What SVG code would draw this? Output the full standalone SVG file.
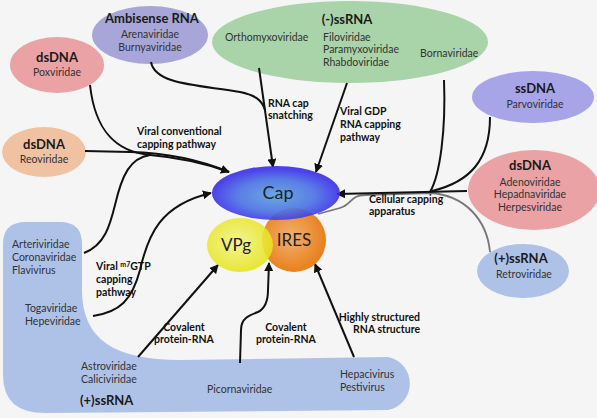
<svg xmlns="http://www.w3.org/2000/svg" width="597" height="418" viewBox="0 0 597 418">
<style>
text{font-family:Lato,"Liberation Sans",sans-serif;fill:#222}
.t{font-size:13px;font-weight:bold;text-anchor:middle;fill:#1a1a1a}
.f{font-size:10.5px;fill:#333}
.fm{font-size:10.5px;fill:#333;text-anchor:middle}
.l{font-size:10.5px;font-weight:bold;fill:#111}
.c{stroke:#111;stroke-width:2;fill:none}
.g{stroke:#777;stroke-width:1.8;fill:none}
</style>
<defs>
<marker id="ah" viewBox="0 0 10 10" refX="9" refY="5" markerWidth="9" markerHeight="9" markerUnits="userSpaceOnUse" orient="auto"><path d="M0,0 L10,5 L0,10 z" fill="#111"/></marker>
<radialGradient id="capG" cx="50%" cy="55%" r="50%"><stop offset="0" stop-color="#5aa0e0"/><stop offset="0.6" stop-color="#4a70e4"/><stop offset="1" stop-color="#3a2ee8"/></radialGradient>
<radialGradient id="iresG" cx="45%" cy="45%" r="55%"><stop offset="0" stop-color="#f2b070"/><stop offset="1" stop-color="#e8801c"/></radialGradient>
<radialGradient id="vpgG" cx="45%" cy="45%" r="55%"><stop offset="0" stop-color="#f4f488"/><stop offset="1" stop-color="#e6e41c"/></radialGradient>
</defs>
<rect width="597" height="418" fill="#f5f5f5"/>

<g id="plus-ssRNA-band">
<path d="M3,244 Q3,222 26,222 L60,222 Q82,222 82,244 L82,290 C82,340 115,360 180,360 L388,357 A27,27 0 0 1 388,410 L45,413 Q3,413 3,375 Z" fill="#aec2e8"/>
<text class="f" x="12" y="248">Arteriviridae</text>
<text class="f" x="12" y="261">Coronaviridae</text>
<text class="f" x="12" y="274">Flavivirus</text>
<text class="f" x="25" y="312">Togaviridae</text>
<text class="f" x="25" y="325">Hepeviridae</text>
<text class="f" x="81" y="370">Astroviridae</text>
<text class="f" x="81" y="383">Caliciviridae</text>
<text class="t" x="80" y="405" style="text-anchor:start">(+)ssRNA</text>
<text class="f" x="207" y="393">Picornaviridae</text>
<text class="f" x="340" y="378">Hepacivirus</text>
<text class="f" x="340" y="391">Pestivirus</text>
</g>

<g id="ambisense">
<ellipse cx="150" cy="35" rx="58" ry="29" fill="#a8a6d8"/>
<text class="t" x="152" y="23">Ambisense RNA</text>
<text class="fm" x="150" y="38">Arenaviridae</text>
<text class="fm" x="150" y="51">Burnyaviridae</text>
</g>

<g id="pox">
<ellipse cx="57" cy="65" rx="47" ry="28" fill="#eaa2a4"/>
<text class="t" x="57" y="62">dsDNA</text>
<text class="fm" x="57" y="76">Poxviridae</text>
</g>

<g id="reo">
<ellipse cx="44" cy="152" rx="42" ry="25" fill="#f1c2a2"/>
<text class="t" x="44" y="149">dsDNA</text>
<text class="fm" x="44" y="163">Reoviridae</text>
</g>

<g id="minus-ssRNA">
<ellipse cx="350" cy="42" rx="138" ry="41" fill="#a9d4a9"/>
<text class="t" x="347" y="24">(-)ssRNA</text>
<text class="f" x="225" y="41">Orthomyxoviridae</text>
<text class="f" x="323" y="41">Filoviridae</text>
<text class="f" x="323" y="53">Paramyxoviridae</text>
<text class="f" x="323" y="66">Rhabdoviridae</text>
<text class="f" x="420" y="57">Bornaviridae</text>
</g>

<g id="ssDNA">
<ellipse cx="533" cy="97" rx="61" ry="26" fill="#a8a4e8"/>
<text class="t" x="535" y="93">ssDNA</text>
<text class="fm" x="535" y="108">Parvoviridae</text>
</g>

<g id="dsDNA-right">
<ellipse cx="534" cy="190" rx="66" ry="40" fill="#eaa2a4"/>
<text class="t" x="530" y="170">dsDNA</text>
<text class="fm" x="530" y="186">Adenoviridae</text>
<text class="fm" x="530" y="198">Hepadnaviridae</text>
<text class="fm" x="530" y="211">Herpesviridae</text>
</g>

<g id="retro">
<ellipse cx="523" cy="271" rx="46" ry="27" fill="#aec2e8"/>
<text class="t" x="521" y="263" style="text-anchor:middle">(+)ssRNA</text>
<text class="fm" x="524" y="278">Retroviridae</text>
</g>

<g id="connectors">
<path class="g" d="M490,252 C487,220 465,195 430,193 L365,195 C350,195 352,205 340,208 L318,214"/>
<path class="c" d="M90,85 C95,130 115,152 150,155 C185,158 210,165 229,172" marker-end="url(#ah)"/>
<path class="c" d="M85,151 L130,152 C170,153 205,162 229,172"/>
<path class="c" d="M84,253 C105,245 110,225 115,205 C122,175 130,158 150,155"/>
<path class="c" d="M93,316 C120,312 132,300 140,270 C148,235 160,205 211,193" marker-end="url(#ah)"/>
<path class="c" d="M151,62 C155,85 200,85 240,92 C255,95 262,100 265,110"/>
<path class="c" d="M259,68 L273,167" marker-end="url(#ah)"/>
<path class="c" d="M347,83 L316,172" marker-end="url(#ah)"/>
<path class="c" d="M467,191 L337,194" marker-end="url(#ah)"/>
<path class="c" d="M444,80 C446,130 440,175 430,192"/>
<path class="c" d="M490,117 C490,160 470,182 432,191"/>
<path class="c" d="M138,357 L218,265" marker-end="url(#ah)"/>
<path class="c" d="M240,363 L241,330 C241,318 250,315 258,312 C266,308 268,300 268,290 L269,263" marker-end="url(#ah)"/>
<path class="c" d="M354,357 L315,264" marker-end="url(#ah)"/>
</g>

<g id="labels">
<text class="l" x="268" y="107">RNA cap</text>
<text class="l" x="268" y="119">snatching</text>
<text class="l" x="340" y="115">Viral GDP</text>
<text class="l" x="340" y="128">RNA capping</text>
<text class="l" x="340" y="141">pathway</text>
<text class="l" x="137" y="135">Viral conventional</text>
<text class="l" x="137" y="148">capping pathway</text>
<text class="l" x="369" y="203">Cellular capping</text>
<text class="l" x="369" y="215">apparatus</text>
<text class="l" x="96" y="270">Viral <tspan font-size="7" dy="-3">m7</tspan><tspan dy="3">GTP</tspan></text>
<text class="l" x="96" y="283">capping</text>
<text class="l" x="96" y="296">pathway</text>
<text class="l" x="184" y="331" text-anchor="middle">Covalent</text>
<text class="l" x="184" y="343" text-anchor="middle">protein-RNA</text>
<text class="l" x="286" y="331" text-anchor="middle">Covalent</text>
<text class="l" x="286" y="343" text-anchor="middle">protein-RNA</text>
<text class="l" x="420" y="321" text-anchor="end">Highly structured</text>
<text class="l" x="420" y="333" text-anchor="end">RNA structure</text>
</g>

<g id="IRES">
<circle cx="294" cy="240" r="32" fill="url(#iresG)"/>
<text x="294" y="246" font-size="17" text-anchor="middle" fill="#222">IRES</text>
</g>
<g id="VPg">
<ellipse cx="240" cy="245" rx="33" ry="27" fill="url(#vpgG)" opacity="0.88"/>
<text x="236" y="251" font-size="17" text-anchor="middle" fill="#222">VPg</text>
</g>
<g id="Cap">
<ellipse cx="276" cy="193" rx="64" ry="27" fill="url(#capG)" opacity="0.9"/>
<text x="278" y="199" font-size="18" text-anchor="middle" fill="#1a2050">Cap</text>
</g>
</svg>
